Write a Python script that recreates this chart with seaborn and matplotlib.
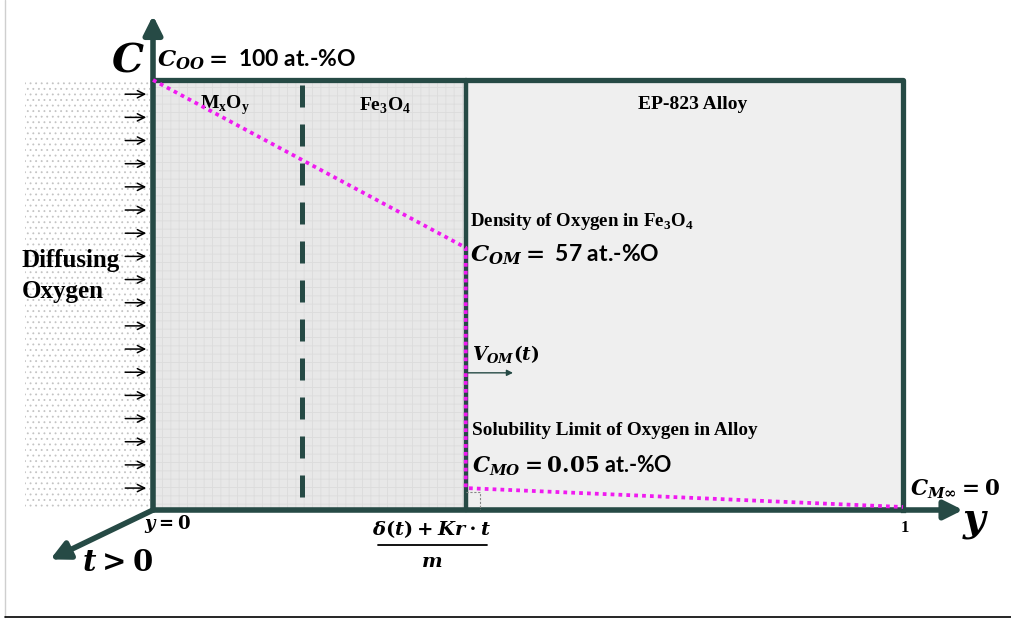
import numpy as np
import pandas as pd
import seaborn as sns
import matplotlib.pyplot as plt
from matplotlib.patches import Rectangle
from matplotlib.lines import Line2D

# concentration profile (position y from 0 to 1, C drawn on a 0-100 schematic scale)
profile_pos = [0.0, 0.417, 0.417, 1.0]
profile_conc = [100.0, 61.0, 5.1, 0.7]
interface_pos = 0.417
oxide_split_pos = 0.199
region_labels = ['M$_\\mathsf{x}$O$_\\mathsf{y}$', 'Fe$_\\mathsf{3}$O$_\\mathsf{4}$', 'EP-823 Alloy']
region_label_pos = [0.096, 0.309, 0.72]
n_flux_arrows = 18

sns.set_theme(style='white')
plt.rcParams['mathtext.fontset'] = 'custom'
plt.rcParams['mathtext.it'] = 'DejaVu Serif:italic:bold'
plt.rcParams['mathtext.rm'] = 'DejaVu Serif:bold'
plt.rcParams['mathtext.bf'] = 'DejaVu Serif:bold'
plt.rcParams['mathtext.sf'] = 'Liberation Serif:bold'
plt.rcParams['hatch.linewidth'] = 0.6

dark = '#264a45'
magenta = '#f01af0'

fig = plt.figure(figsize=(10.11, 6.21), dpi=100)
ax = fig.add_axes([153 / 1011, 111 / 621, 750 / 1011, 430 / 621])

# regions
ax.add_patch(Rectangle((-0.171, 0.7), 0.167, 99.3, facecolor='white', edgecolor='#c4c4c4',
                       hatch='...', lw=0, clip_on=False, zorder=0))
ax.add_patch(Rectangle((0, 0), interface_pos, 100, facecolor='#e8e8e8', edgecolor='#dcdcdc',
                       hatch='++', lw=0, zorder=0))
ax.add_patch(Rectangle((interface_pos, 0), 1 - interface_pos, 100, facecolor='#efefef',
                       lw=0, zorder=0))

# box and interfaces
ax.plot([0, 1, 1], [100, 100, 0], color=dark, lw=3.8, solid_capstyle='projecting', clip_on=False, zorder=3)
ax.plot([interface_pos, interface_pos], [0, 100], color=dark, lw=3.2, clip_on=False, zorder=3)
ax.plot([oxide_split_pos, oxide_split_pos], [3, 99], color=dark, lw=3.6,
        linestyle=(0, (4.4, 3.4)), clip_on=False, zorder=3)

# axes with arrows
arrow_kw = dict(arrowstyle='-|>', color=dark, lw=4, mutation_scale=28, shrinkA=0, shrinkB=0)
ax.annotate('', xy=(0, 115), xytext=(0, 0), arrowprops=arrow_kw, annotation_clip=False, zorder=4)
ax.annotate('', xy=(1.08, 0), xytext=(0, 0), arrowprops=arrow_kw, annotation_clip=False, zorder=4)
ax.annotate('', xy=(-0.137, -11.5), xytext=(0, 0), arrowprops=arrow_kw, annotation_clip=False, zorder=4)

# oxygen profile
df = pd.DataFrame({'pos': profile_pos, 'conc': profile_conc})
sns.lineplot(data=df, x='pos', y='conc', sort=False, estimator=None, color=magenta,
             lw=2.7, linestyle=(0, (1, 1.1)), ax=ax, zorder=5, clip_on=False)
ax.set_xlim(0, 1)
ax.set_ylim(0, 100)
ax.axis('off')

# right angle mark at the interface
ax.plot([interface_pos, 0.436, 0.436], [4.2, 4.2, 0], color='#888888', lw=0.8,
        linestyle=(0, (2, 1.5)), zorder=4)

# growth velocity arrow
ax.annotate('', xy=(0.48, 31.9), xytext=(0.42, 31.9),
            arrowprops=dict(arrowstyle='-|>', color=dark, lw=1, mutation_scale=9, shrinkA=0, shrinkB=0),
            zorder=6)

# incoming oxygen flux arrows
flux_kw = dict(arrowstyle='->', color='black', lw=1.1, mutation_scale=13, shrinkA=0, shrinkB=0)
for yy in np.linspace(96.7, 5.1, n_flux_arrows):
    ax.annotate('', xy=(-0.009, yy), xytext=(-0.037, yy), arrowprops=flux_kw,
                annotation_clip=False, zorder=4)

serif = 'Liberation Serif'
sans = 'Lato'

ax.text(-0.011, 104.5, '$C$', ha='right', va='center', fontsize=29, color='black')
ax.text(0.005, 104.7, '$C_{OO}=$ 100 at.-%O', ha='left', va='center', fontsize=16.5,
        family=sans, weight='bold', color='black')

for lab, xx in zip(region_labels, region_label_pos):
    ax.text(xx, 94.2, lab, ha='center', va='center', fontsize=14, family=serif,
            weight='bold', color='black')

ax.text(0.4227, 67.2, 'Density of Oxygen in Fe$_\\mathsf{3}$O$_\\mathsf{4}$', ha='left', va='center',
        fontsize=13.6, family=serif, weight='bold', color='black')
ax.text(0.4227, 59.3, '$C_{OM}=$ 57 at.-%O', ha='left', va='center', fontsize=16.5,
        family=sans, weight='bold', color='black')
ax.text(0.4253, 36.2, '$V_{OM}(t)$', ha='left', va='center', fontsize=13.5, color='black')
ax.text(0.4253, 18.4, 'Solubility Limit of Oxygen in Alloy', ha='left', va='center',
        fontsize=13.8, family=serif, weight='bold', color='black')
ax.text(0.4253, 10.2, '$C_{MO}=0.05$ at.-%O', ha='left', va='center', fontsize=15.5,
        family=sans, weight='bold', color='black')
ax.text(1.009, 4.9, '$C_{M\\infty}=0$', ha='left', va='center', fontsize=15.5, color='black')

ax.text(1.003, -4.2, '1', ha='center', va='center', fontsize=12, family=serif, weight='bold',
        color='black')
ax.text(1.097, -2.8, '$y$', ha='center', va='center', fontsize=28, color='black')
ax.text(0.02, -3.3, '$y=0$', ha='center', va='center', fontsize=13, color='black')
ax.text(0.372, -4.5, '$\\delta(t)+Kr\\cdot t$', ha='center', va='center', fontsize=14,
        color='black')
ax.plot([0.3, 0.445], [-8.1, -8.1], color='black', lw=1.3, clip_on=False)
ax.text(0.372, -12.0, '$m$', ha='center', va='center', fontsize=14, color='black')
ax.text(-0.047, -12.4, '$t>0$', ha='center', va='center', fontsize=21, color='black')

ax.text(-0.1747, 58.1, 'Diffusing', ha='left', va='center', fontsize=18, family=serif,
        weight='bold', color='black')
ax.text(-0.1747, 50.7, 'Oxygen', ha='left', va='center', fontsize=18, family=serif,
        weight='bold', color='black')

# page frame lines
fig.add_artist(Line2D([5 / 1011, 5 / 1011], [4 / 621, 1], color='#cfcfcf', lw=1))
fig.add_artist(Line2D([5 / 1011, 1], [4 / 621, 4 / 621], color='black', lw=1.2))

fig.savefig('out.png', dpi=100)
